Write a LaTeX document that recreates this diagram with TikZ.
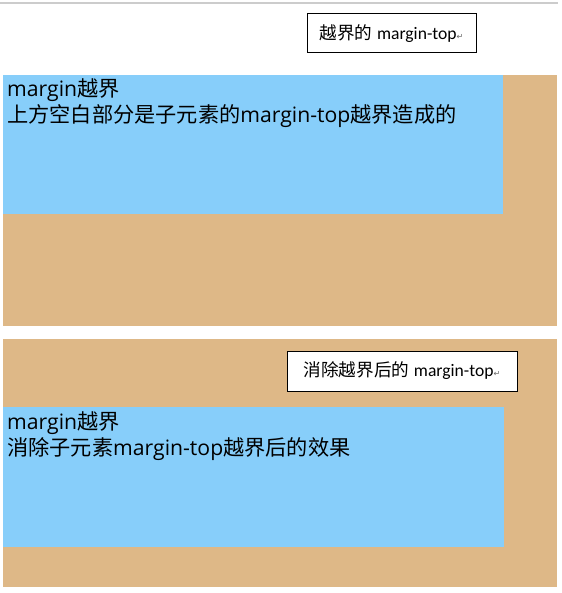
\documentclass[tikz,border=0pt]{standalone}
\usepackage{fontspec}
\setmainfont{Open Sans}
\newfontfamily\cjk{Noto Sans CJK SC}
\newfontfamily\calib{Carlito}
\newfontfamily\glyphfont{DejaVu Sans}
\definecolor{boxtan}{HTML}{DEB887}
\definecolor{boxsky}{HTML}{87CEFA}
\newcommand{\retmark}{{\glyphfont\fontsize{8}{8}\selectfont\color{black!60}↵}}
\tikzset{
  tanbox/.style={fill=boxtan},
  skybox/.style={fill=boxsky},
  callout/.style={draw, fill=white, line width=1pt, inner sep=0pt, font=\fontsize{17.6}{20}\selectfont},
  bodytext/.style={anchor=base west, inner sep=0pt, font=\fontsize{21.2}{26}\selectfont}
}
\begin{document}
\begin{tikzpicture}[x=1pt,y=-1pt]
\useasboundingbox (0,0) rectangle (561,593);
\draw[color=black!20, line width=1.5pt] (0,3) -- (558,3);
% first pair: child margin-top overflows
\node[callout, minimum width=169pt, minimum height=39pt] (tip1) at (391.5,33.5) {{\cjk 越界的} {\calib margin-top}\retmark};
\fill[tanbox] (3,75) rectangle (557,326);
\fill[skybox] (3,75) rectangle (503,214);
\node[bodytext] (head1) at (7,97) {margin{\cjk 越界}};
\node[bodytext] (line1) at (7,123) {{\cjk 上方空白部分是子元素的}margin-top{\cjk 越界造成的}};
% second pair: overflow removed
\fill[tanbox] (3,339) rectangle (557,587);
\node[callout, minimum width=230pt, minimum height=40pt] (tip2) at (402,371) {{\cjk 消除越界后的} {\calib margin-top}\retmark};
\fill[skybox] (3,407) rectangle (504,547);
\node[bodytext] (head2) at (7,429) {margin{\cjk 越界}};
\node[bodytext] (line2) at (7,455) {{\cjk 消除子元素}margin-top{\cjk 越界后的效果}};
\end{tikzpicture}
\end{document}
